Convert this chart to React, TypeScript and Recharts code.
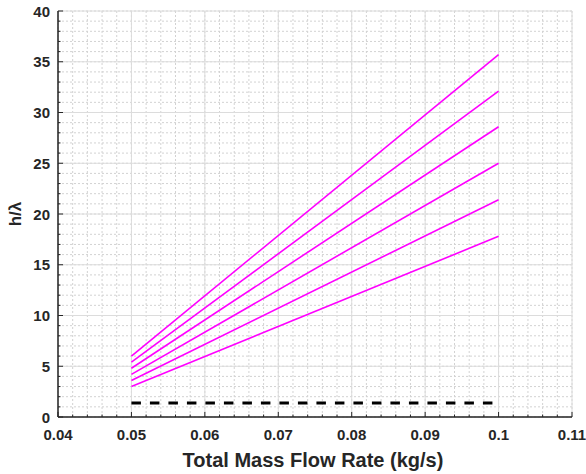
import { LineChart, Line, XAxis, YAxis, CartesianGrid, Label } from "recharts";

const massFlow = [0.05, 0.1];
const curve1 = [6.0, 35.7];
const curve2 = [5.4, 32.1];
const curve3 = [4.8, 28.6];
const curve4 = [4.2, 25.0];
const curve5 = [3.6, 21.4];
const curve6 = [3.0, 17.8];
const baseline = [1.38, 1.38];

const xTicks = [0.04, 0.05, 0.06, 0.07, 0.08, 0.09, 0.1, 0.11];
const xTickLabels = ["0.04", "0.05", "0.06", "0.07", "0.08", "0.09", "0.1", "0.11"];
const yTicks = [0, 5, 10, 15, 20, 25, 30, 35, 40];
const yTickLabels = ["0", "5", "10", "15", "20", "25", "30", "35", "40"];

// minor grid / tick positions (x every 0.002, y every 1)
const xMinor = Array.from({ length: 36 }, (_, i) => Math.round((0.04 + i * 0.002) * 1000) / 1000);
const yMinor = Array.from({ length: 41 }, (_, i) => i);

const curves = [curve1, curve2, curve3, curve4, curve5, curve6];
const data = massFlow.map((m, i) => {
  const row: Record<string, number> = { m, base: baseline[i] };
  curves.forEach((c, k) => (row["c" + (k + 1)] = c[i]));
  return row;
});

const INK = "#262626";
const FONT = "'Liberation Sans', Arial, sans-serif";

const isMajorX = (v: number) => xTicks.some((t) => Math.abs(t - v) < 1e-6);
const isMajorY = (v: number) => yTicks.some((t) => Math.abs(t - v) < 1e-6);

const BottomTick = (p: any) => {
  const { x, y, payload } = p;
  const idx = xTicks.findIndex((t) => Math.abs(t - payload.value) < 1e-6);
  const major = idx >= 0;
  return (
    <g>
      <line x1={x} x2={x} y1={y} y2={y - (major ? 5 : 2.5)} stroke={INK} strokeWidth={1} />
      {major && (
        <text x={x} y={y + 23} textAnchor="middle" fill={INK} fontSize={15} fontWeight="bold" fontFamily={FONT}>
          {xTickLabels[idx]}
        </text>
      )}
    </g>
  );
};

const TopTick = (p: any) => {
  const { x, y, payload } = p;
  const major = isMajorX(payload.value);
  return <line x1={x} x2={x} y1={y} y2={y + (major ? 5 : 2.5)} stroke={INK} strokeWidth={1} />;
};

const LeftTick = (p: any) => {
  const { x, y, payload } = p;
  const idx = yTicks.findIndex((t) => Math.abs(t - payload.value) < 1e-6);
  const major = idx >= 0;
  return (
    <g>
      <line x1={x} x2={x + (major ? 5 : 2.5)} y1={y} y2={y} stroke={INK} strokeWidth={1} />
      {major && (
        <text x={x - 8} y={y + 5.5} textAnchor="end" fill={INK} fontSize={15} fontWeight="bold" fontFamily={FONT}>
          {yTickLabels[idx]}
        </text>
      )}
    </g>
  );
};

const RightTick = (p: any) => {
  const { x, y, payload } = p;
  const major = isMajorY(payload.value);
  return <line x1={x} x2={x - (major ? 5 : 2.5)} y1={y} y2={y} stroke={INK} strokeWidth={1} />;
};

const XTitle = (p: any) => {
  const vb = p.viewBox;
  return (
    <text x={vb.x + vb.width / 2 - 2} y={vb.y + 50} textAnchor="middle" fill={INK} fontSize={20} fontWeight="bold" fontFamily={FONT}>
      Total Mass Flow Rate (kg/s)
    </text>
  );
};

const YTitle = (p: any) => {
  const vb = p.viewBox;
  const cy = vb.y + vb.height / 2;
  return (
    <text x={21} y={cy} transform={`rotate(-90 21 ${cy})`} textAnchor="middle" fill={INK} fontSize={17} fontWeight="bold" fontFamily={FONT}>
      h/λ
    </text>
  );
};

export default function App() {
  return (
    <div style={{ position: "absolute", left: 0, top: 0, background: "#fff" }}>
      <LineChart width={586} height={474} data={data} margin={{ top: 11, right: 14, left: 0, bottom: 0 }}>
        <CartesianGrid verticalValues={xMinor} horizontalValues={yMinor} stroke="#d2d2d2" strokeDasharray="2 2" />
        <CartesianGrid verticalValues={xTicks} horizontalValues={yTicks} stroke="#dcdcdc" />
        <XAxis
          dataKey="m"
          type="number"
          domain={[0.04, 0.11]}
          ticks={xMinor}
          interval={0}
          height={57}
          tickSize={0}
          tickMargin={0}
          tick={BottomTick}
          axisLine={{ stroke: INK, strokeWidth: 1.5 }}
          tickLine={false}
        >
          <Label content={XTitle} />
        </XAxis>
        <XAxis
          xAxisId="top"
          orientation="top"
          type="number"
          dataKey="m"
          domain={[0.04, 0.11]}
          ticks={xMinor}
          interval={0}
          height={0}
          tickSize={0}
          tickMargin={0}
          tick={TopTick}
          axisLine={{ stroke: INK, strokeWidth: 1.5 }}
          tickLine={false}
        />
        <YAxis
          type="number"
          domain={[0, 40]}
          ticks={yMinor}
          interval={0}
          width={58}
          tickSize={0}
          tickMargin={0}
          tick={LeftTick}
          axisLine={{ stroke: INK, strokeWidth: 1.5 }}
          tickLine={false}
        >
          <Label content={YTitle} />
        </YAxis>
        <YAxis
          yAxisId="right"
          orientation="right"
          type="number"
          domain={[0, 40]}
          ticks={yMinor}
          interval={0}
          width={0}
          tickSize={0}
          tickMargin={0}
          tick={RightTick}
          axisLine={{ stroke: INK, strokeWidth: 1.5 }}
          tickLine={false}
        />
        {curves.map((_, k) => (
          <Line
            key={k}
            type="linear"
            dataKey={"c" + (k + 1)}
            stroke="#ff00ff"
            strokeWidth={1.6}
            dot={false}
            isAnimationActive={false}
          />
        ))}
        <Line
          type="linear"
          dataKey="base"
          stroke="#000000"
          strokeWidth={3}
          strokeDasharray="9.5 9"
          dot={false}
          isAnimationActive={false}
        />
      </LineChart>
    </div>
  );
}
